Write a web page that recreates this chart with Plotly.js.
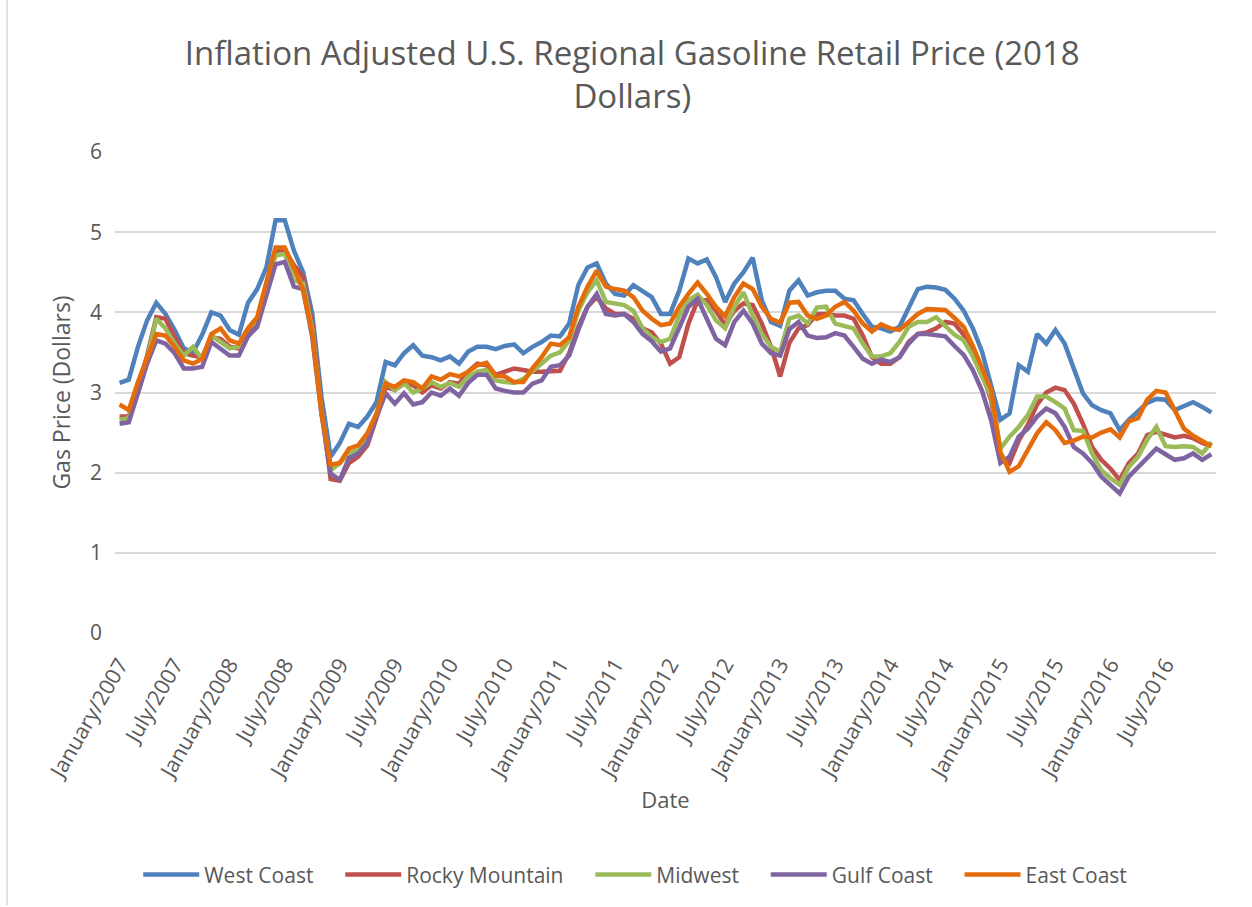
<!DOCTYPE html>
<html>
<head>
<meta charset="utf-8">
<script src="https://cdn.plot.ly/plotly-3.0.1.min.js"></script>
<style>html,body{margin:0;padding:0;background:#fff;}#chart{width:1252px;height:907px;}</style>
</head>
<body>
<div id="chart"></div>
<script>
var monthNames = ["January","February","March","April","May","June","July","August","September","October","November","December"];
var years = [2007,2008,2009,2010,2011,2012,2013,2014,2015,2016];
var months = [];
years.forEach(function(y){ monthNames.forEach(function(m){ months.push(m + "/" + y); }); });

var westCoast = [3.12,3.16,3.57,3.9,4.12,3.98,3.78,3.55,3.5,3.72,4.0,3.96,3.78,3.72,4.12,
4.29,4.56,5.15,5.15,4.77,4.5,3.98,2.95,2.2,2.37,2.61,2.57,2.7,2.88,3.38,
3.34,3.49,3.59,3.46,3.44,3.40,3.45,3.36,3.51,3.57,3.57,3.54,3.58,3.6,
3.49,3.57,3.63,3.71,3.7,3.86,4.34,4.56,4.61,4.36,4.23,4.21,4.34,4.27,4.19,
3.98,3.98,4.27,4.67,4.61,4.66,4.44,4.13,4.36,4.5,4.68,4.15,3.88,3.83,4.27,
4.4,4.21,4.25,4.27,4.27,4.17,4.15,3.98,3.82,3.8,3.76,3.82,4.07,4.29,
4.32,4.31,4.28,4.17,4.02,3.8,3.51,3.11,2.66,2.74,3.34,3.26,3.73,3.61,3.78,
3.61,3.28,2.99,2.84,2.78,2.74,2.53,2.66,2.76,2.87,2.92,2.91,2.78,2.83,2.88,2.82,2.75];

var rockyMountain = [2.7,2.7,3.07,3.46,3.94,3.92,3.69,3.49,3.46,3.44,3.69,3.67,3.57,3.55,3.78,
3.86,4.27,4.77,4.77,4.59,4.44,3.86,2.82,1.92,1.9,2.12,2.2,2.34,2.68,3.07,
3.03,3.11,3.09,3.0,3.09,3.05,3.13,3.11,3.26,3.36,3.34,3.22,3.26,3.3,
3.28,3.26,3.26,3.27,3.27,3.49,3.82,4.07,4.19,4.05,3.98,3.98,3.92,3.8,3.75,
3.61,3.36,3.44,3.86,4.15,4.15,4.02,3.84,4.02,4.11,4.09,3.86,3.57,3.2,3.62,
3.8,3.84,3.98,3.98,3.96,3.96,3.92,3.71,3.44,3.36,3.36,3.44,3.63,3.73,
3.75,3.8,3.88,3.86,3.72,3.52,3.25,2.9,2.2,2.12,2.4,2.6,2.85,3.0,3.06,
3.03,2.86,2.61,2.32,2.16,2.05,1.91,2.12,2.24,2.47,2.51,2.47,2.44,2.46,2.43,2.37,2.33];

var midwest = [2.66,2.68,3.03,3.42,3.92,3.8,3.61,3.46,3.57,3.42,3.71,3.63,3.55,3.57,3.8,
3.9,4.32,4.71,4.73,4.4,4.36,3.78,2.78,2.03,2.12,2.24,2.28,2.41,2.7,3.13,
3.03,3.12,3.0,3.05,3.13,3.07,3.12,3.07,3.2,3.26,3.28,3.15,3.13,3.12,
3.17,3.26,3.36,3.46,3.5,3.65,4.02,4.25,4.4,4.13,4.11,4.09,4.02,3.8,3.69,
3.63,3.67,3.96,4.15,4.22,4.09,3.9,3.8,4.07,4.25,3.96,3.73,3.57,3.51,3.92,
3.96,3.86,4.06,4.07,3.86,3.83,3.8,3.61,3.45,3.45,3.49,3.63,3.82,3.88,
3.88,3.94,3.83,3.72,3.65,3.45,3.2,2.95,2.3,2.45,2.57,2.72,2.95,2.95,2.88,
2.8,2.53,2.52,2.24,2.03,1.93,1.85,2.07,2.2,2.41,2.57,2.33,2.32,2.33,2.32,2.24,2.38];

var gulfCoast = [2.61,2.63,2.99,3.36,3.65,3.61,3.49,3.3,3.3,3.32,3.63,3.55,3.46,3.46,3.7,
3.82,4.19,4.6,4.63,4.32,4.29,3.69,2.74,1.99,1.91,2.18,2.24,2.37,2.7,2.99,
2.86,2.99,2.85,2.88,3.0,2.96,3.05,2.96,3.12,3.22,3.22,3.05,3.02,3.0,
3.0,3.11,3.15,3.32,3.34,3.46,3.78,4.07,4.23,3.98,3.96,3.98,3.88,3.73,3.64,
3.51,3.55,3.8,4.07,4.17,3.92,3.67,3.59,3.88,4.02,3.86,3.61,3.49,3.46,3.79,
3.88,3.71,3.68,3.69,3.74,3.71,3.57,3.42,3.36,3.41,3.38,3.44,3.61,3.73,
3.73,3.72,3.7,3.58,3.47,3.28,3.02,2.65,2.12,2.2,2.45,2.55,2.7,2.8,2.74,
2.57,2.32,2.24,2.12,1.95,1.85,1.74,1.95,2.07,2.2,2.3,2.23,2.16,2.18,2.24,2.16,2.23];

var eastCoast = [2.85,2.78,3.13,3.44,3.73,3.71,3.57,3.4,3.36,3.42,3.73,3.8,3.65,3.61,3.8,
3.94,4.36,4.81,4.81,4.56,4.27,3.73,2.74,2.1,2.12,2.3,2.34,2.49,2.74,3.11,
3.07,3.15,3.13,3.05,3.2,3.16,3.23,3.2,3.26,3.34,3.37,3.21,3.2,3.13,
3.13,3.3,3.44,3.61,3.59,3.69,4.07,4.32,4.52,4.32,4.29,4.27,4.19,4.02,3.92,
3.84,3.86,4.07,4.23,4.37,4.23,4.07,3.95,4.19,4.36,4.29,4.07,3.92,3.87,4.12,
4.13,3.96,3.92,3.96,4.07,4.13,4.02,3.86,3.76,3.85,3.8,3.78,3.88,3.98,
4.04,4.04,4.03,3.93,3.82,3.58,3.3,3.03,2.26,2.01,2.08,2.28,2.49,2.63,2.53,
2.37,2.4,2.45,2.44,2.5,2.54,2.44,2.64,2.68,2.91,3.02,3.0,2.78,2.55,2.46,2.4,2.33];

var seriesNames = ["West Coast","Rocky Mountain","Midwest","Gulf Coast","East Coast"];
var seriesValues = [westCoast, rockyMountain, midwest, gulfCoast, eastCoast];
var seriesColors = ["#4f81bd","#c0504d","#9bbb59","#8064a2","#e46c0a"];

var tickLabels = months.filter(function(m, i){ return i % 6 === 0; });

// extra spacing after each legend entry except the last (Excel-like legend gaps)
var legendPad = "\u00a0\u00a0\u00a0\u00a0";
var traces = seriesNames.map(function(name, k){
  return {
    type: "scatter", mode: "lines",
    name: k < seriesNames.length - 1 ? name + legendPad : name,
    x: months, y: seriesValues[k],
    line: {color: seriesColors[k], width: 4.5, shape: "linear"},
    hovertemplate: name + ": %{y:.2f}<extra></extra>"
  };
});

var fontFam = "'Open Sans', 'Noto Sans', sans-serif";
var layout = {
  width: 1252, height: 907,
  paper_bgcolor: "#ffffff", plot_bgcolor: "#ffffff",
  margin: {l: 115, r: 36, t: 152, b: 274},
  font: {family: fontFam, color: "#595959", size: 20},
  title: {
    text: "Inflation Adjusted U.S. Regional Gasoline Retail Price (2018<br>Dollars)",
    font: {family: fontFam, size: 33, color: "#595959"},
    x: 0.505, xanchor: "center", y: 0.928, yanchor: "middle"
  },
  xaxis: {
    type: "category",
    tickmode: "array", tickvals: tickLabels, ticktext: tickLabels,
    tickangle: -60,
    tickfont: {family: fontFam, size: 21.5, color: "#595959"},
    ticklabelstandoff: 14,
    showgrid: false, zeroline: false,
    showline: false, ticks: "",
    range: [-0.5, months.length - 0.5],
    title: {text: "Date", font: {family: fontFam, size: 22, color: "#595959"}, standoff: 2},
    automargin: false
  },
  yaxis: {
    range: [0, 6], dtick: 1, tick0: 0,
    tickfont: {family: fontFam, size: 21, color: "#595959"},
    ticklabelstandoff: 12,
    gridcolor: "#d9d9d9", gridwidth: 1.5,
    zeroline: false, showline: false, ticks: "",
    title: {text: "Gas Price (Dollars)", font: {family: fontFam, size: 23, color: "#595959"}, standoff: 12},
    automargin: false
  },
  showlegend: true,
  legend: {
    orientation: "h", x: 0.4725, xanchor: "center", y: -0.503, yanchor: "middle",
    font: {family: fontFam, size: 21, color: "#595959"},
    itemwidth: 56, traceorder: "normal",
    bgcolor: "rgba(0,0,0,0)"
  },
  shapes: [
    {type: "line", xref: "paper", yref: "paper",
     x0: (7 - 115) / 1101, x1: (7 - 115) / 1101,
     y0: (633 - 0) / 481, y1: (633 - 905) / 481,
     line: {color: "#d9d9d9", width: 1.5}}
  ]
};

Plotly.newPlot("chart", traces, layout, {displayModeBar: false, responsive: false});
</script>
</body>
</html>
